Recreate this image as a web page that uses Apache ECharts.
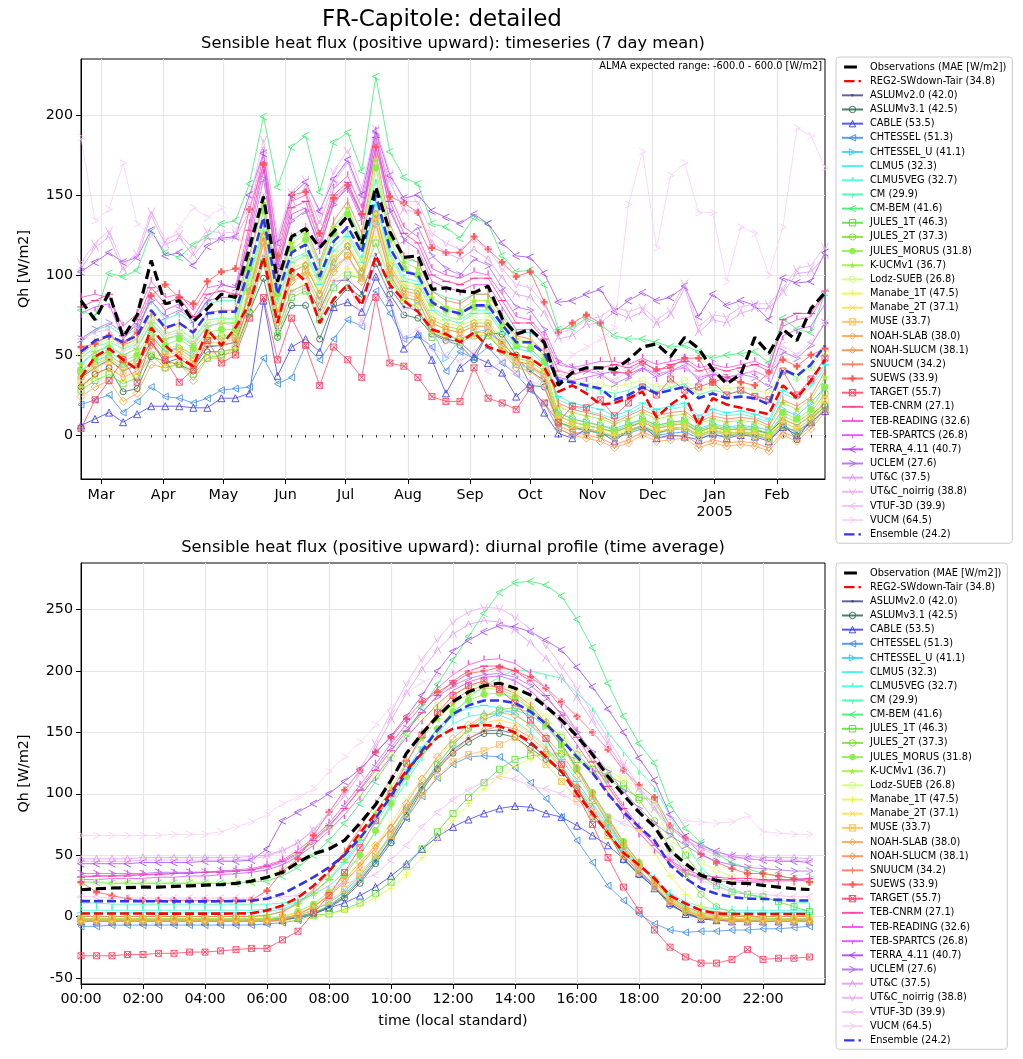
<!DOCTYPE html>
<html><head><meta charset="utf-8">
<script src="https://cdn.jsdelivr.net/npm/echarts@6/dist/echarts.min.js"></script>
<style>html,body{margin:0;padding:0;background:#fff}#c{width:1023px;height:1059px}</style>
</head><body><div id="c"></div>
<script>
// ---------------- DATA: timeseries (7 day mean), weekly from 2004-02-20 ----------------
const weekStart = '2004-02-20';
const monthTickLabels = ['Mar','Apr','May','Jun','Jul','Aug','Sep','Oct','Nov','Dec','Jan\n2005','Feb'];
const ts_Obs = [84,72,89,61,75,109,82,84,71,79,88,86, 117,149,96,124,129,117,127,137,119,155,127,111, 112,91,92,90,89,93,73,63,66,58, 31,39,42,42,41,47,55,57,49,61,54,41,32,38,61,51,66,59,79,89];
const ts_REG2 = [36,49,54,47,41,67,56,48,43,66,56,67, 82,111,70,104,96,70,85,94,81,112,94,84, 77,66,63,58,64,55,52,50,48,42, 27,31,26,19,20,23,27,11,19,25,6,23,19,17,15,13,31,23,34,47];
const ts_Ens = [52,59,62,58,62,78,67,70,64,76,77,77, 104,136,88,114,119,99,121,130,114,150,117,102, 100,83,78,76,81,81,69,58,58,51, 34,33,31,29,22,25,30,26,28,30,23,26,23,24,23,19,41,37,44,56];
const ts_ASLUMv20 = [36,42,47,40,44,58,45,48,42,55,56,58, 82,112,66,90,94,78,96,97,89,113,92,80, 78,64,60,58,50,64,58,48,40,34, 12,8,6,4,2,5,8,4,6,7,2,5,3,4,3,1,10,6,12,20];
const ts_ASLUMv31 = [30,38,42,27,29,49,46,44,40,52,52,54, 77,98,61,81,81,60,82,92,86,107,88,75, 73,63,59,56,47,64,63,50,31,30, 8,5,3,1,-1,2,6,1,4,5,0,3,1,2,1,-1,8,-3,10,18];
const ts_CABLE = [6,10,14,8,13,18,18,18,17,17,23,23, 26,84,37,55,60,52,80,83,77,99,83,54, 63,47,26,42,49,45,39,24,32,14, 1,-2,4,2,-4,3,6,-2,0,-1,-3,1,-2,0,-1,-4,5,0,8,15];
const ts_CHTESSEL = [19,22,25,14,21,30,24,23,20,23,28,29, 30,48,32,36,56,47,60,72,68,90,76,60, 62,55,40,52,48,55,45,38,28,20, 4,0,3,2,-2,1,4,0,1,2,-2,0,-1,1,0,-3,5,2,8,16];
const ts_CHTESSEL_U = [40,46,50,44,48,62,52,55,50,60,60,61, 90,120,72,98,102,84,105,112,98,132,100,86, 84,66,48,60,64,66,56,44,42,36, 14,10,8,6,4,7,10,6,8,9,4,7,5,6,5,3,16,12,20,30];
const ts_CLMU5 = [45,52,55,50,54,70,60,62,56,68,70,70, 98,128,82,108,112,94,115,124,108,144,112,96, 94,78,72,70,76,76,64,54,52,44, 24,20,18,16,12,15,20,16,18,20,12,16,14,15,13,10,28,24,32,44];
const ts_CLMU5VEG = [48,55,58,54,57,73,63,66,60,72,73,73, 100,130,84,110,114,96,118,126,110,146,114,98, 96,80,74,72,78,78,66,56,54,46, 22,18,15,13,10,13,18,14,16,18,10,14,12,13,11,8,26,22,30,42];
const ts_CM = [58,66,68,62,66,84,72,76,70,82,84,84, 112,145,94,122,128,106,130,140,122,160,126,110, 108,90,86,84,88,88,76,64,64,58, 36,33,30,28,26,28,32,27,30,32,25,28,26,27,25,22,40,36,44,56];
const ts_CMBEM = [78,74,101,99,103,127,114,111,119,124,132,134, 157,199,155,180,187,152,183,189,165,224,177,161, 157,132,130,123,136,132,112,102,103,94, 66,67,73,69,62,60,60,58,55,56,52,48,50,51,52,45,73,66,64,89];
const ts_JULES1T = [28,34,38,32,36,50,42,44,38,48,50,52, 76,108,62,86,90,72,92,100,98,120,98,84, 80,61,64,58,62,62,53,44,42,38, 8,4,3,1,-1,2,5,1,3,4,-1,2,0,1,0,-2,6,2,9,18];
const ts_JULES2T = [36,44,48,42,46,62,52,54,48,60,62,62, 92,124,76,102,106,88,110,118,102,138,106,92, 90,72,68,66,70,70,58,48,46,40, 14,10,8,6,3,6,10,6,8,9,3,6,4,5,4,1,12,8,14,26];
const ts_JULESMORUS = [40,48,52,46,50,66,56,60,54,64,66,66, 104,140,88,116,122,100,126,138,118,167,122,104, 100,82,78,76,80,80,68,56,54,46, 12,8,6,4,2,5,9,5,7,8,2,5,3,4,3,0,14,10,16,30];
const ts_KUCM = [44,52,56,50,54,70,60,63,57,68,70,70, 110,145,92,120,126,104,130,142,122,172,126,108, 104,86,80,78,84,84,72,60,58,50, 18,14,12,10,7,10,14,10,12,13,7,10,8,9,8,5,20,16,22,36];
const ts_Lodz = [50,56,60,55,58,72,63,66,60,70,72,72, 96,126,84,108,112,94,114,124,108,140,110,96, 94,78,74,72,76,76,66,58,58,52, 36,34,32,32,30,32,34,30,32,34,28,30,29,30,28,26,40,36,42,52];
const ts_Manabe1T = [30,36,40,34,38,52,44,46,40,50,52,54, 80,112,66,90,94,76,96,104,96,124,96,84, 80,64,62,60,62,64,54,46,44,38, 10,6,4,2,0,3,6,2,4,5,0,3,1,2,1,-1,8,4,10,20];
const ts_Manabe2T = [38,45,49,44,48,63,54,56,50,61,62,63, 94,126,78,104,108,90,112,120,104,140,108,94, 92,74,70,68,72,72,60,50,48,42, 12,8,6,4,1,4,8,4,6,7,1,4,2,3,2,-1,10,6,12,24];
const ts_MUSE = [34,42,46,40,44,60,50,52,46,58,58,60, 88,120,72,98,102,84,104,112,98,134,102,88, 86,70,66,64,68,68,56,46,44,38, 10,6,4,2,-1,2,6,2,4,5,-1,2,0,1,0,-3,8,4,10,22];
const ts_NOAHSLAB = [24,30,34,21,26,44,42,45,34,48,48,55, 84,120,70,96,100,80,102,112,96,132,100,86, 84,66,62,60,64,64,52,42,40,32, 4,0,-2,-4,-8,-5,0,-4,-3,-2,-8,-5,-7,-6,-7,-10,0,-4,4,14];
const ts_NOAHSLUCM = [30,38,42,36,40,56,48,50,44,56,56,58, 90,124,76,102,106,88,108,118,102,138,104,90, 88,70,66,64,68,68,56,46,44,36, 6,2,0,-2,-6,-3,2,-2,-1,0,-6,-3,-5,-4,-5,-8,2,-2,6,16];
const ts_SNUUCM = [50,58,62,56,60,76,66,70,64,76,78,78, 112,148,96,124,130,108,134,146,126,176,132,112, 108,90,84,82,88,88,74,62,60,52, 20,16,14,12,8,12,16,12,14,15,8,12,10,11,10,6,22,18,24,40];
const ts_SUEWS = [55,57,62,58,64,87,94,86,82,96,102,104, 141,169,112,150,152,126,148,156,138,180,149,145, 139,117,114,114,124,116,108,99,102,83, 64,70,75,70,39,39,45,41,42,48,48,33,36,33,31,39,47,43,50,54];
const ts_TARGET = [4,22,34,47,33,58,47,33,41,59,45,50, 73,86,47,73,56,31,55,47,36,86,45,43, 36,24,21,21,42,23,20,16,29,20, 8,18,17,22,12,20,30,25,35,28,30,33,25,28,24,22,40,25,35,48];
const ts_TEBCNRM = [80,84,88,62,72,92,82,86,74,88,90,88, 128,170,104,142,146,120,150,158,138,186,146,126, 120,100,96,94,98,98,84,70,70,60, 40,38,40,42,44,42,46,40,44,46,40,42,40,42,44,40,72,76,76,90];
const ts_TEBREADING = [86,88,86,68,76,96,86,88,78,92,94,92, 132,176,108,146,150,124,154,162,142,190,150,130, 124,104,100,98,102,100,88,74,72,62, 44,42,44,46,46,44,48,44,46,48,42,44,42,44,46,42,68,72,74,88];
const ts_TEBSPARTCS = [76,80,82,60,70,88,78,82,70,84,86,86, 124,166,100,138,142,116,146,154,134,180,142,122, 116,96,92,90,94,94,80,66,66,56, 36,34,36,38,40,38,42,36,40,42,36,38,36,38,40,36,62,66,68,82];
const ts_TERRA = [102,108,114,108,111,128,112,114,106,118,123,124, 150,176,120,150,158,140,160,172,150,190,162,148, 150,140,136,132,138,132,120,112,111,101, 83,84,88,91,77,84,89,84,86,93,74,88,81,84,81,72,98,95,96,114];
const ts_UCLEM = [60,66,70,64,68,84,74,78,72,84,94,92, 120,160,106,134,140,118,144,156,136,187,140,122, 130,112,104,100,110,106,92,80,78,66, 46,42,40,38,32,36,42,38,40,44,34,38,36,38,36,30,52,48,56,70];
const ts_UTC = [104,117,124,103,111,137,119,123,112,123,122,123, 140,178,118,146,154,132,158,170,148,185,158,140, 140,120,114,110,116,110,98,88,86,76, 60,62,69,70,77,73,77,69,75,92,64,72,70,76,79,79,89,101,102,112];
const ts_UTCnoirrig = [108,120,128,106,114,140,122,126,116,128,126,127, 146,185,124,152,160,138,165,178,154,192,164,146, 146,126,120,116,122,116,104,94,92,82, 64,66,72,74,80,77,80,72,78,95,68,75,74,80,82,82,92,104,106,118];
const ts_VTUF = [60,64,66,52,56,70,62,64,58,68,70,68, 78,112,72,88,92,74,96,98,70,112,84,60, 66,54,50,46,52,40,46,38,34,30, 36,40,42,38,34,40,44,38,40,42,36,40,36,38,40,36,56,50,58,70];
const ts_VUCM = [186,134,141,170,132,125,118,130,142,136,142,128, 110,150,96,124,130,104,112,107,70,130,92,78, 80,62,58,56,62,66,54,44,42,36, 40,50,55,60,67,144,177,117,162,170,139,139,96,130,126,100,130,192,187,167];

// ---------------- DATA: diurnal profile, half-hourly 00:00 .. 23:30 ----------------
const hourTickLabels = ['00:00','02:00','04:00','06:00','08:00','10:00','12:00','14:00','16:00','18:00','20:00','22:00'];
const dp_Obs = [21.8,22.6,23.2,23.5,24,24,24.5,25,25.5,26,27,28.8, 32,36,44,51,55,62,76,91,111,133,149,163,175,183,188,190,186,180.5,171,160,147,132,114,99,85,73,54,43,33.5,29.4, 27,27,25.3,24,22.6,22];
const dp_REG2 = [2.4,2.4,2.4,2.4,2.4,2.3,2.3,2.3,2.3,2.3,2.4,2.6, 5,9,15.5,25,37,51,68,84,101,119,133,146,153,155,156,155,150,142,130,118,100,84,68,52,42,31,17,10.6,5,2.5, 2,2,2,2,2,2];
const dp_Ens = [12.5,12.5,12.5,12.4,12.4,12.4,12.3,12.3,12.3,12.4,12.5,12.8, 14.5,18.5,25,32,40,50,64,80,98,117,135,152,165,172,176,176,174,167,157,144,130,117,100,85,73,62,42,31,23,18.5, 15.8,14.5,14.5,13.5,13,13];
const dp_ASLUMv20 = [-2,-2,-2,-2,-2,-2,-2,-2,-2,-2,-2,-2, -2,-2,0,3,8,16,29,45,63,84,105,122,136,145,151,152,149,140,130,118,105,84,68,50,36,25,10,3,-1,-2, -2,-2,-2,-2,-2,-2];
const dp_ASLUMv31 = [-3,-3,-3,-3,-3,-3,-3,-3,-3,-3,-3,-3, -3,-2,-1,2,7,15,27,43,60,81,103,120,133,142,149,149,146,137,128,117,105,81,68,46,34,24,9,3,-2,-3, -3,-3,-3,-3,-3,-3];
const dp_CABLE = [-4,-4,-4,-4,-4,-4,-4,-4,-4,-4,-4,-4, -4,-3,-1,2,7,11,17,24,33,43,55,65,73,79,84,88,90,89,84,81,74,66,58,47,35,23,11,2,-2,-3, -4,-4,-4,-4,-4,-4];
const dp_CHTESSEL = [-8,-8,-7,-7,-7,-7,-7,-7,-7,-7,-7,-7, -6,-5,-3,2,8,18,30,45,62,80,98,113,124,130,131,130,121,109,96,81,62,44,25,13,2,-6,-11,-13,-12,-12, -11,-11,-10,-10,-9,-8];
const dp_CHTESSEL_U = [-2,-2,-2,-2,-2,-2,-2,-2,-2,-2,-2,-2, -2,-1,1,5,11,20,33,49,67,87,106,124,140,152,160,166,168,164,155,140,120,97,76,56,38,24,12,5,1,-1, -2,-2,-2,-2,-2,-2];
const dp_CLMU5 = [3,3,3,3,3,3,3,3,3,3,3,3, 4,6,11,19,30,44,62,80,100,120,138,153,164,170,172,170,165,156,143,128,110,92,74,56,42,30,18,10,6,4, 3,3,3,3,3,3];
const dp_CLMU5VEG = [5,5,5,5,5,5,5,5,5,5,5,5, 6,8,12,20,30,43,59,76,95,114,131,146,157,163,165,164,159,150,138,124,107,90,72,55,42,31,19,12,8,6, 5,5,5,5,5,5];
const dp_CM = [11,11,10,10,10,10,10,10,10,10,10,10, 10,11,13,18,25,36,50,69,90,110,130,148,165,178,188,195,201,200,197,194,182,170,150,134,119,105,82,60,40,28, 22,18,15,13,12,11];
const dp_CMBEM = [28,28,27,27,27,27,27,27,27,27,27,28, 29,33,40,50,62,76,92,110,129,149,170,189,209,228,247,264,272,273,270,261,242,219,190,163,141,125,91,72,60,51, 44,39,35,33,31,30];
const dp_JULES1T = [-2,-2,-2,-2,-2,-2,-2,-2,-2,-2,-2,-2, -2,-1,0,1,2,6,11,19,28,41,55,69,84,97,109,120,128,131,132,133,128,120,112,104,97,95,70,50,33,25, 20,18,16,12,8,4];
const dp_JULES2T = [-3,-3,-3,-3,-3,-3,-3,-3,-3,-3,-3,-3, -3,-2,0,3,9,18,31,47,66,86,106,124,140,153,163,169,170,166,158,146,132,120,115,108,95,78,55,35,18,8, 3,0,-1,-2,-3,-3];
const dp_JULESMORUS = [-2,-2,-2,-2,-2,-2,-2,-2,-2,-2,-2,-2, -2,0,4,10,20,33,50,70,92,114,135,153,167,176,181,182,178,169,156,140,121,101,81,61,44,30,15,6,1,-1, -2,-2,-2,-2,-2,-2];
const dp_KUCM = [0,0,0,0,0,0,0,0,0,0,0,0, 1,4,10,19,31,46,64,84,105,126,145,161,173,181,186,185,180,170,156,139,119,98,78,58,42,28,15,7,2,0, 0,0,0,0,0,0];
const dp_Lodz = [28,28,28,28,28,28,28,28,28,28,28,29, 31,39,50,60,72,86,101,116,131,146,160,172,181,187,190,189,184,175,162,148,134,126,119,112,105,90,62,54,44,38, 32,31,30,29,29,28];
const dp_Manabe1T = [-4,-4,-4,-4,-4,-4,-4,-4,-4,-4,-4,-4, -4,-4,-3,-1,2,5,9,15,23,34,48,63,78,92,104,114,122,129,132,134,130,120,105,88,70,52,33,18,8,2, -1,-2,-3,-3,-4,-4];
const dp_Manabe2T = [-2,-2,-2,-2,-2,-2,-2,-2,-2,-2,-2,-2, -2,0,3,8,16,28,42,58,76,95,113,129,142,152,158,160,157,149,137,122,105,87,69,52,38,26,13,5,1,-1, -2,-2,-2,-2,-2,-2];
const dp_MUSE = [-3,-3,-3,-3,-3,-3,-3,-3,-3,-3,-3,-3, -3,-2,1,5,12,22,35,50,66,83,99,114,126,132,135,140,146,135,124,110,96,82,66,50,36,24,12,5,0,-2, -3,-3,-3,-3,-3,-3];
const dp_NOAHSLAB = [-4,-4,-4,-4,-4,-4,-4,-4,-4,-4,-4,-4, -4,-3,1,8,18,30,44,58,72,92,112,130,145,156,164,166,164,156,146,132,115,96,77,58,42,28,14,5,0,-2, -3,-4,-4,-4,-4,-4];
const dp_NOAHSLUCM = [-4,-4,-4,-4,-4,-4,-4,-4,-4,-4,-4,-4, -4,-2,2,8,17,28,41,56,72,89,106,121,134,145,152,155,153,146,135,121,105,88,70,53,38,25,12,4,-1,-3, -4,-4,-4,-4,-4,-4];
const dp_SNUUCM = [0,0,0,0,0,0,0,0,0,0,0,0, 1,4,11,22,36,53,72,92,112,132,150,165,176,184,188,187,182,172,158,141,121,100,80,60,44,30,16,8,3,1, 0,0,0,0,0,0];
const dp_SUEWS = [28,20,17,14.5,13,13,13,13,13,13,13,13.5, 21,37,47,66,85,103,119,134,146,161,175,183,190,198,200,203,200,195,186,175,163,150,136,119,107,97,74,64,51,44, 39,35,35,33,31,28];
const dp_TARGET = [-32,-32,-32,-31,-31,-30,-30,-29,-29,-28,-27,-26, -26,-19,-12,3,17,36,56,78,100,125,148,166,180,188,192,185,174,160,145,124,100,75,48,24,5,-11,-25,-33,-38,-38, -35,-27,-35,-34,-34,-33];
const dp_TEBCNRM = [32,33,33,33,34,34,35,35,36,36,37,38, 41,45,52,62,74,88,103,119,135,151,166,180,192,200,204,204,200,192,180,164,146,126,106,88,72,58,46,38,34,32, 31,31,30,30,30,31];
const dp_TEBREADING = [33,33,33,34,34,35,35,36,36,37,38,39, 42,46,54,64,76,91,107,124,141,157,172,186,197,205,209,210,206,198,186,170,151,130,109,90,73,58,45,36,32,30, 30,29,29,30,30,31];
const dp_TEBSPARTCS = [30,30,31,31,31,32,32,33,33,34,35,36, 38,42,49,58,70,83,98,114,130,146,160,173,184,191,195,196,192,184,172,157,140,121,101,83,68,55,43,35,31,29, 28,28,28,29,29,30];
const dp_TERRA = [43,43,43,43,44,44,44,44,45,45,45,46, 55,78,85,92,100,110,120,133,147,163,180,200,216,225,232,237,236,232,225,217,203,187,169,150,129,111,83,65,58,53, 49,47,46,45,45,44];
const dp_UCLEM = [35,35,35,35,35,36,36,36,36,37,37,38, 40,44,51,61,73,88,104,121,138,153,167,179,188,194,197,198,195,188,178,165,150,134,118,102,88,76,66,58,50,45, 42,40,39,38,37,37];
const dp_UTC = [47,47,47,47,48,48,48,48,48,48,48,49, 50,54,60,70,83,98,116,137,160,182,201,217,230,238,241,240,233,223,210,195,178,159,140,121,103,87,72,62,56,52, 50,49,48,48,48,47];
const dp_UTCnoirrig = [45,45,45,45,46,46,46,46,46,46,46,47, 49,53,60,71,85,101,120,142,166,190,210,226,240,248,252,251,244,234,221,204,186,165,145,125,106,89,73,62,55,50, 48,47,46,46,46,45];
const dp_VTUF = [16,16,15,15,15,15,15,15,15,15,15,15, 15,16,17,20,24,27,30,34,46,58,73,85,95,103,110,114,112,106,104,100,92,86,81,76,70,62,50,40,30,24, 21,19,18,17,16,16];
const dp_VUCM = [66,66,66,66,66,66,67,67,67,69,73,77, 83,92,97,104,118,130,142,156,171,182,191,196,199,200,200,199,197,192,185,175,164,150,135,118,104,92,81,78,77,76, 77,82,69,68,67,67];

// ---------------- STYLES ----------------
const P = (d) => 'path://' + d;
const BOX = 'M0,0L10,0L10,0Z M0,10L10,10L10,10Z ';
const SYM = {
  dot:{s:P(BOX + 'M4.2,3L5.8,3L7,4.2L7,5.8L5.8,7L4.2,7L3,5.8L3,4.2Z'),z:7,f:true},
  o:{s:'circle',z:6,f:false},
  obig:{s:'circle',z:7,f:false},
  triUp:{s:'triangle',z:7,f:false},
  triLeft:{s:P('M0,5L8.66,0L8.66,10Z'),z:7,f:false},
  triRight:{s:P('M8.66,5L0,0L0,10Z'),z:7,f:false},
  hline:{s:P(BOX + 'M0,4.3L10,4.3L10,5.7L0,5.7Z'),z:8,f:true},
  tickUp:{s:P(BOX + 'M4.3,0L5.7,0L5.7,5L4.3,5Z'),z:9,f:true},
  tickDown:{s:P(BOX + 'M4.3,5L5.7,5L5.7,10L4.3,10Z'),z:9,f:true},
  vline:{s:P('M0,5L10,5L10,5Z M4.3,0L5.7,0L5.7,10L4.3,10Z'),z:8,f:true},
  caretL:{s:P('M10,0L0,5L10,10'),z:7,f:false},
  caretR:{s:P('M0,0L10,5L0,10'),z:7,f:false},
  caretU:{s:P('M0,10L5,0L10,10'),z:7,f:false},
  caretD:{s:P('M0,0L5,10L10,0'),z:7,f:false},
  square:{s:'rect',z:6,f:false},
  hex:{s:P('M5,0L9.33,2.5L9.33,7.5L5,10L0.67,7.5L0.67,2.5Z'),z:7,f:false},
  oct:{s:P('M3,0L7,0L10,3L10,7L7,10L3,10L0,7L0,3Z'),z:7,f:true},
  star:{s:P('M5,0L6.2,3.6L10,3.6L6.9,5.9L8.1,9.5L5,7.3L1.9,9.5L3.1,5.9L0,3.6L3.8,3.6Z'),z:8,f:true},
  plus:{s:P('M5,0L5,10M0,5L10,5'),z:7,f:false},
  cross:{s:P('M0,0L10,10M10,0L0,10'),z:6,f:false},
  sqx:{s:P('M0,0L10,0L10,10L0,10Z M0,0L10,10 M10,0L0,10'),z:6,f:false},
  diamond:{s:'diamond',z:8,f:false},
  thinDiamond:{s:P('M3,0L6,5L3,10L0,5Z'),z:8,f:false},
  fplus:{s:P('M3.3,0L6.7,0L6.7,3.3L10,3.3L10,6.7L6.7,6.7L6.7,10L3.3,10L3.3,6.7L0,6.7L0,3.3L3.3,3.3Z'),z:7,f:true}
};
const models = [
  ['ASLUMv2.0 (42.0)','#45488f','dot',ts_ASLUMv20,dp_ASLUMv20],
  ['ASLUMv3.1 (42.5)','#2e6b4f','o',ts_ASLUMv31,dp_ASLUMv31],
  ['CABLE (53.5)','#3b3bf5','triUp',ts_CABLE,dp_CABLE],
  ['CHTESSEL (51.3)','#3c8cf0','triLeft',ts_CHTESSEL,dp_CHTESSEL],
  ['CHTESSEL_U (41.1)','#3cc8f5','triRight',ts_CHTESSEL_U,dp_CHTESSEL_U],
  ['CLMU5 (32.3)','#33eeee','hline',ts_CLMU5,dp_CLMU5],
  ['CLMU5VEG (32.7)','#33ffdd','tickUp',ts_CLMU5VEG,dp_CLMU5VEG],
  ['CM (29.9)','#33ffaa','tickDown',ts_CM,dp_CM],
  ['CM-BEM (41.6)','#33ee66','caretL',ts_CMBEM,dp_CMBEM],
  ['JULES_1T (46.3)','#55dd33','square',ts_JULES1T,dp_JULES1T],
  ['JULES_2T (37.3)','#77dd33','hex',ts_JULES2T,dp_JULES2T],
  ['JULES_MORUS (31.8)','#88ee44','oct',ts_JULESMORUS,dp_JULESMORUS],
  ['K-UCMv1 (36.7)','#99ee33','star',ts_KUCM,dp_KUCM],
  ['Lodz-SUEB (26.8)','#ccff66','obig',ts_Lodz,dp_Lodz],
  ['Manabe_1T (47.5)','#e6f540','plus',ts_Manabe1T,dp_Manabe1T],
  ['Manabe_2T (37.1)','#ffdd44','cross',ts_Manabe2T,dp_Manabe2T],
  ['MUSE (33.7)','#ffc050','sqx',ts_MUSE,dp_MUSE],
  ['NOAH-SLAB (38.0)','#ffa040','diamond',ts_NOAHSLAB,dp_NOAHSLAB],
  ['NOAH-SLUCM (38.1)','#ff8844','thinDiamond',ts_NOAHSLUCM,dp_NOAHSLUCM],
  ['SNUUCM (34.2)','#ff7050','vline',ts_SNUUCM,dp_SNUUCM],
  ['SUEWS (33.9)','#ff5550','fplus',ts_SUEWS,dp_SUEWS],
  ['TARGET (55.7)','#ff4060','sqx',ts_TARGET,dp_TARGET],
  ['TEB-CNRM (27.1)','#ff3399','hline',ts_TEBCNRM,dp_TEBCNRM],
  ['TEB-READING (32.6)','#ff44dd','tickUp',ts_TEBREADING,dp_TEBREADING],
  ['TEB-SPARTCS (26.8)','#dd44ff','tickDown',ts_TEBSPARTCS,dp_TEBSPARTCS],
  ['TERRA_4.11 (40.7)','#a040f5','caretL',ts_TERRA,dp_TERRA],
  ['UCLEM (27.6)','#aa66f5','caretR',ts_UCLEM,dp_UCLEM],
  ['UT&C (37.5)','#dd99f5','caretU',ts_UTC,dp_UTC],
  ['UT&C_noirrig (38.8)','#eeaaee','caretD',ts_UTCnoirrig,dp_UTCnoirrig],
  ['VTUF-3D (39.9)','#f3b8f3','caretL',ts_VTUF,dp_VTUF],
  ['VUCM (64.5)','#f8ccf8','caretR',ts_VUCM,dp_VUCM]
];
const obsTopName = 'Observations (MAE [W/m2])';
const obsBotName = 'Observation (MAE [W/m2])';
const reg2Name = 'REG2-SWdown-Tair (34.8)';
const ensName = 'Ensemble (24.2)';

// ---------------- AXES HELPERS ----------------
const DAY = 864e5;
const [sy, sm, sd] = weekStart.split('-').map(Number);
const t0 = Date.UTC(sy, sm - 1, sd);
const weekX = ts_Obs.map((_, k) => t0 + 7 * k * DAY);
const tMax = weekX[weekX.length - 1];
const monthTicks = monthTickLabels.map((_, i) => Date.UTC(2004, 2 + i, 1));
const hourX = dp_Obs.map((_, i) => i * 0.5);
const hourTicks = hourTickLabels.map((s) => parseInt(s, 10));

const FONT = 'DejaVu Sans';
const series = [];
function pairs(xs, ys) { return xs.map((x, i) => [x, ys[i]]); }
function modelSeries(m, panel) {
  const [name, col, symKey, ts, dp] = m;
  const st = SYM[symKey];
  return {
    type: 'line', name, xAxisIndex: panel === 0 ? 0 : 2, yAxisIndex: panel,
    data: panel === 0 ? pairs(weekX, ts) : pairs(hourX, dp),
    symbol: st.s, symbolSize: st.z, symbolKeepAspect: true, showSymbol: true,
    lineStyle: { color: col, width: 0.9, opacity: 0.85 },
    itemStyle: { color: st.f ? col : 'none', borderColor: col, borderWidth: st.f ? 0 : 0.9, opacity: 0.95 },
    emphasis: { disabled: true }, z: 2, animation: false
  };
}
function thick(name, col, w, dash, panel, ts, dp, z) {
  return {
    type: 'line', name, xAxisIndex: panel === 0 ? 0 : 2, yAxisIndex: panel,
    data: panel === 0 ? pairs(weekX, ts) : pairs(hourX, dp),
    symbol: 'none', showSymbol: false,
    lineStyle: { color: col, width: w, type: dash },
    itemStyle: { color: col },
    emphasis: { disabled: true }, z: z, animation: false
  };
}
for (const panel of [0, 1]) {
  series.push(thick(panel === 0 ? obsTopName : obsBotName, '#000000', 3.2, [10, 5], panel, ts_Obs, dp_Obs, 5));
  series.push(thick(reg2Name, '#ff0000', 2.6, [9, 4], panel, ts_REG2, dp_REG2, 4));
  models.forEach((m) => series.push(modelSeries(m, panel)));
  series.push(thick(ensName, '#3333ee', 2.6, [9, 4], panel, ts_Ens, dp_Ens, 4));
}
// legend handle icons for the thick dashed lines (drawn in a 21 x 10 box)
const LBOX = 'M0,0L21,0L21,0Z M0,10L21,10L21,10Z ';
const iconObs = P(LBOX + 'M0,3.2L16,3.2L16,6.8L0,6.8Z');
const iconDash = P(LBOX + 'M0,3.6L13,3.6L13,6.4L0,6.4Z M18,3.6L21,3.6L21,6.4L18,6.4Z');
function legendData(obsName) {
  return [{ name: obsName, icon: iconObs }, { name: reg2Name, icon: iconDash },
    ...models.map(m => {
      const st = SYM[m[2]];
      return st.f ? { name: m[0] } : { name: m[0], itemStyle: { color: 'rgba(255,255,255,0)', borderColor: m[1], borderWidth: 1 } };
    }), { name: ensName, icon: iconDash }];
}

const legendCommon = {
  orient: 'vertical', left: 836, itemWidth: 21, itemHeight: 8, itemGap: 2.16,
  padding: [4, 6, 3, 5], borderColor: '#cccccc', borderWidth: 1, borderRadius: 3,
  backgroundColor: 'rgba(255,255,255,0.8)', selectedMode: false,
  textStyle: { fontFamily: FONT, fontSize: 9.8, lineHeight: 12, color: '#000', padding: [0, 0, 0, 2] }
};
const axisText = { fontFamily: FONT, fontSize: 14.3, color: '#000' };
const gridLine = { show: true, lineStyle: { color: '#e6e6e6', width: 1.2 } };

const option = {
  animation: false,
  backgroundColor: '#ffffff',
  title: [
    { text: 'FR-Capitole: detailed', left: 442, top: 9, textAlign: 'center', padding: 0,
      textStyle: { fontFamily: FONT, fontSize: 23, fontWeight: 'normal', color: '#000' } },
    { text: 'Sensible heat flux (positive upward): timeseries (7 day mean)', left: 453, top: 36, textAlign: 'center', padding: 0,
      textStyle: { fontFamily: FONT, fontSize: 16.3, fontWeight: 'normal', color: '#000' } },
    { text: 'Sensible heat flux (positive upward): diurnal profile (time average)', left: 453, top: 540, textAlign: 'center', padding: 0,
      textStyle: { fontFamily: FONT, fontSize: 16.3, fontWeight: 'normal', color: '#000' } }
  ],
  graphic: [
    { type: 'text', right: 1023 - 822, top: 61, style: { text: 'ALMA expected range: -600.0 - 600.0 [W/m2]', font: '9.8px "DejaVu Sans"', fill: '#000' }, z: 10 }
  ],
  legend: [
    Object.assign({}, legendCommon, { top: 57, data: legendData(obsTopName) }),
    Object.assign({}, legendCommon, { top: 563, data: legendData(obsBotName) })
  ],
  grid: [
    { left: 81, top: 59, width: 744, height: 420, show: true, borderColor: '#000', borderWidth: 1, backgroundColor: 'transparent' },
    { left: 81, top: 563, width: 744, height: 421, show: true, borderColor: '#000', borderWidth: 1, backgroundColor: 'transparent' }
  ],
  xAxis: [
    { type: 'value', gridIndex: 0, min: t0, max: tMax,
      axisLine: { show: true, onZero: false, lineStyle: { color: '#000', width: 1 } },
      axisTick: { show: true, length: 5, customValues: monthTicks, lineStyle: { color: '#000' } },
      axisLabel: { show: true, customValues: monthTicks, margin: 8, lineHeight: 17,
        formatter: (v) => { const i = monthTicks.findIndex(t => Math.abs(t - v) < DAY / 2); return i >= 0 ? monthTickLabels[i] : ''; },
        ...axisText },
      splitLine: gridLine },
    { type: 'value', gridIndex: 0, min: t0, max: tMax, position: 'bottom',
      axisLine: { show: false }, axisLabel: { show: false }, splitLine: { show: false },
      axisTick: { show: true, length: 2.5, customValues: weekX, lineStyle: { color: '#000', width: 0.8 } } },
    { type: 'value', gridIndex: 1, min: 0, max: 24,
      name: 'time (local standard)', nameLocation: 'middle', nameGap: 30, nameTextStyle: axisText,
      axisLine: { show: true, onZero: false, lineStyle: { color: '#000', width: 1 } },
      axisTick: { show: true, length: 5, customValues: hourTicks, lineStyle: { color: '#000' } },
      axisLabel: { show: true, customValues: hourTicks, margin: 8,
        formatter: (v) => { const i = hourTicks.indexOf(Math.round(v)); return i >= 0 ? hourTickLabels[i] : ''; },
        ...axisText },
      splitLine: gridLine }
  ],
  yAxis: [
    { type: 'value', gridIndex: 0, min: -27.5, max: 235,
      name: 'Qh [W/m2]', nameLocation: 'middle', nameGap: 50, nameTextStyle: axisText,
      axisLine: { show: true, onZero: false, lineStyle: { color: '#000', width: 1 } },
      axisTick: { show: true, length: 5, customValues: [0, 50, 100, 150, 200], lineStyle: { color: '#000' } },
      axisLabel: { show: true, customValues: [0, 50, 100, 150, 200], margin: 8, ...axisText },
      splitLine: gridLine },
    { type: 'value', gridIndex: 1, min: -55, max: 288,
      name: 'Qh [W/m2]', nameLocation: 'middle', nameGap: 50, nameTextStyle: axisText,
      axisLine: { show: true, onZero: false, lineStyle: { color: '#000', width: 1 } },
      axisTick: { show: true, length: 5, customValues: [-50, 0, 50, 100, 150, 200, 250], lineStyle: { color: '#000' } },
      axisLabel: { show: true, customValues: [-50, 0, 50, 100, 150, 200, 250], margin: 8, ...axisText },
      splitLine: gridLine }
  ],
  series: series
};
const chart = echarts.init(document.getElementById('c'), null, { renderer: 'canvas' });
chart.setOption(option);
</script></body></html>
